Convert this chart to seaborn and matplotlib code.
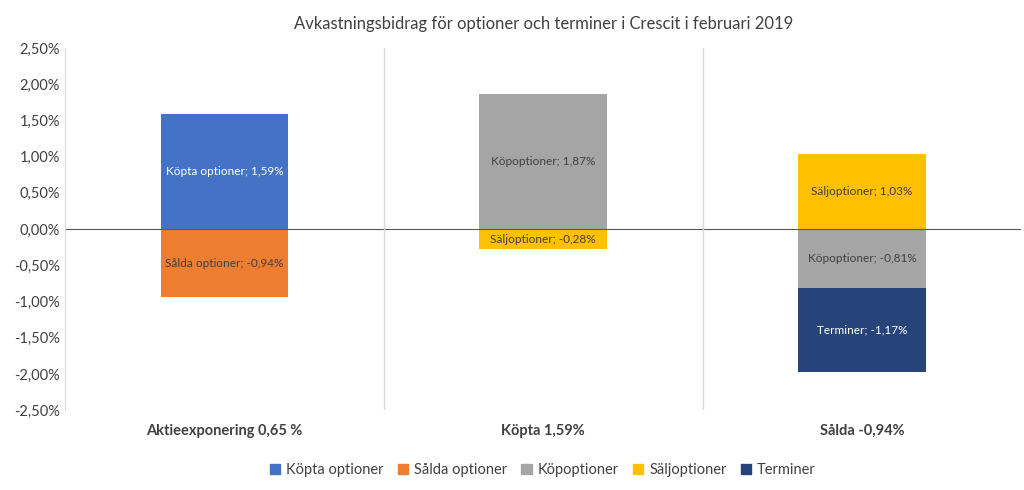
import matplotlib
matplotlib.use("Agg")
import matplotlib.pyplot as plt
import seaborn as sns
import pandas as pd
from matplotlib.patches import Patch
from matplotlib.ticker import FuncFormatter

plt.rcParams["font.family"] = "Lato"

categories = ["Aktieexponering 0,65 %", "Köpta 1,59%", "Sålda -0,94%"]
series = ["Köpta optioner", "Sålda optioner", "Köpoptioner", "Säljoptioner", "Terminer"]
kopta_optioner = [1.59, 0, 0]
salda_optioner = [-0.94, 0, 0]
kopoptioner = [0, 1.87, -0.81]
saljoptioner = [0, -0.28, 1.03]
terminer = [0, 0, -1.17]
colors = ["#4472C4", "#ED7D31", "#A5A5A5", "#FFC000", "#264478"]
label_colors = ["white", "#404040", "#404040", "#404040", "white"]

df = pd.DataFrame({"cat": categories, "Köpta optioner": kopta_optioner,
                   "Sålda optioner": salda_optioner, "Köpoptioner": kopoptioner,
                   "Säljoptioner": saljoptioner, "Terminer": terminer})

fig = plt.figure(figsize=(10.24, 4.9), dpi=100)
ax = fig.add_axes([0.0635, 0.163, 0.934, 0.739])

pos_base = [0.0] * 3
neg_base = [0.0] * 3
for s, c, lc in zip(series, colors, label_colors):
    vals = df[s].tolist()
    bottoms = [pos_base[i] if v >= 0 else neg_base[i] for i, v in enumerate(vals)]
    sns.barplot(x=df["cat"], y=vals, bottom=bottoms, color=c, width=0.4,
                ax=ax, saturation=1, edgecolor="none")
    for i, v in enumerate(vals):
        if v == 0:
            continue
        mid = bottoms[i] + v / 2
        ax.text(i, mid, f"{s}; {v:.2f}%".replace(".", ",").replace("-", "-"),
                ha="center", va="center", fontsize=8.5, color=lc)
        if v > 0:
            pos_base[i] += v
        else:
            neg_base[i] += v

ax.set_ylim(-2.5, 2.5)
ax.set_xlim(-0.5, 2.5)
ax.set_yticks([x / 2 for x in range(-5, 6)])
ax.yaxis.set_major_formatter(FuncFormatter(lambda v, p: f"{v:.2f}%".replace(".", ",")))
ax.axhline(0, color="#595959", lw=0.8)
for x in [0.5, 1.5]:
    ax.axvline(x, color="#D9D9D9", lw=1)
ax.set_xlabel("")
ax.tick_params(axis="x", length=0, labelsize=10.5, pad=10)
ax.tick_params(axis="y", length=0, labelsize=10.5, labelcolor="#404040")
for lab in ax.get_xticklabels():
    lab.set_fontweight("bold")
    lab.set_color("#404040")
for side in ["top", "right", "bottom"]:
    ax.spines[side].set_visible(False)
ax.spines["left"].set_color("#D9D9D9")

ax.set_title("Avkastningsbidrag för optioner och terminer i Crescit i februari 2019",
             fontsize=12, color="#404040", pad=14)
handles = [Patch(color=c, label=s) for s, c in zip(series, colors)]
fig.legend(handles=handles, loc="lower center", ncol=5, frameon=False,
           fontsize=10.5, bbox_to_anchor=(0.53, 0.0), handlelength=0.7,
           handleheight=0.7, columnspacing=1.0, handletextpad=0.4,
           labelcolor="#404040")

fig.savefig("out.png", dpi=100)
